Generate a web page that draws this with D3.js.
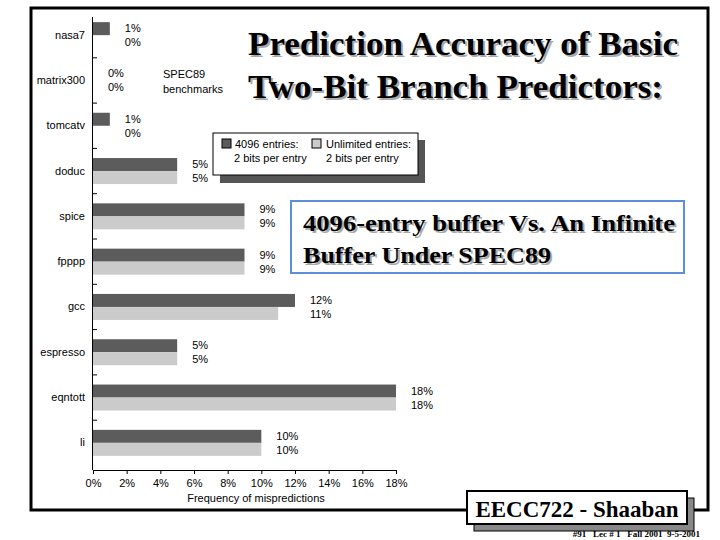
<!DOCTYPE html>
<html><head><meta charset="utf-8">
<script src="https://cdn.jsdelivr.net/npm/d3@7"></script>
<style>body{margin:0;background:#fff}</style>
</head><body><svg></svg>
<script>
var benchmarks=["nasa7","matrix300","tomcatv","doduc","spice","fpppp","gcc","espresso","eqntott","li"]
var entries4096=[1,0,1,5,9,9,12,5,18,10]
var unlimited=[0,0,0,5,9,9,11,5,18,10]
var xTicks=[0,2,4,6,8,10,12,14,16,18]

var svg=d3.select("svg").attr("width",720).attr("height",540)
  .style("font-family","Liberation Sans, Arial, sans-serif")

// outer frame
svg.append("rect").attr("x",31).attr("y",8).attr("width",677).attr("height",502)
   .attr("fill","none").attr("stroke","#000").attr("stroke-width",3)

var x=d3.scaleLinear().domain([0,18]).range([93,396])
var y=d3.scaleBand().domain(benchmarks).range([12.5,465.5])

var rows=svg.append("g").selectAll("g").data(benchmarks).enter().append("g")
rows.append("rect").attr("x",x(0)).attr("y",function(d){return y(d)+y.bandwidth()/2-13})
   .attr("width",function(d,i){return x(entries4096[i])-x(0)}).attr("height",13).attr("fill","#5c5c5c")
rows.append("rect").attr("x",x(0)).attr("y",function(d){return y(d)+y.bandwidth()/2})
   .attr("width",function(d,i){return x(unlimited[i])-x(0)}).attr("height",13).attr("fill","#cbcbcb")
rows.append("text").attr("x",function(d,i){return x(Math.max(entries4096[i],unlimited[i]))+15})
   .attr("y",function(d){return y(d)+y.bandwidth()/2-3}).attr("font-size",11)
   .text(function(d,i){return entries4096[i]+"%"})
rows.append("text").attr("x",function(d,i){return x(Math.max(entries4096[i],unlimited[i]))+15})
   .attr("y",function(d){return y(d)+y.bandwidth()/2+11}).attr("font-size",11)
   .text(function(d,i){return unlimited[i]+"%"})

svg.append("g").attr("transform","translate(93,0)")
   .call(d3.axisLeft(y).tickSize(0).tickPadding(8))
   .call(function(g){g.select(".domain").remove();g.selectAll("text").attr("font-size",11).attr("font-family","Liberation Sans, Arial")})
svg.append("line").attr("x1",92.5).attr("x2",92.5).attr("y1",17).attr("y2",470).attr("stroke","#000")
svg.append("g").selectAll("line").data(benchmarks.slice(1)).enter().append("line")
   .attr("x1",92).attr("x2",97).attr("y1",function(d){return y(d)}).attr("y2",function(d){return y(d)}).attr("stroke","#000")

svg.append("g").attr("transform","translate(0,470)")
   .call(d3.axisBottom(x).tickValues(xTicks).tickSize(4).tickFormat(function(d){return d+"%"}))
   .call(function(g){g.selectAll("text").attr("font-size",11).attr("font-family","Liberation Sans, Arial").attr("dy","0.9em")})
svg.append("text").attr("x",256).attr("y",502).attr("font-size",11).attr("text-anchor","middle").text("Frequency of mispredictions")

svg.append("text").attr("x",163).attr("y",78).attr("font-size",11).text("SPEC89")
svg.append("text").attr("x",163).attr("y",93).attr("font-size",11).text("benchmarks")

// legend
svg.append("rect").attr("x",220).attr("y",140).attr("width",205).attr("height",43).attr("fill","#555")
svg.append("rect").attr("x",213).attr("y",133).attr("width",205).attr("height",42).attr("fill","#fff").attr("stroke","#000")
svg.append("rect").attr("x",222).attr("y",139).attr("width",9).attr("height",9).attr("fill","#5c5c5c").attr("stroke","#000")
svg.append("rect").attr("x",312).attr("y",139).attr("width",9).attr("height",9).attr("fill","#cbcbcb").attr("stroke","#000")
var lg=[["4096 entries:",235,148],["2 bits per entry",234,162],["Unlimited entries:",326,148],["2 bits per entry",326,162]]
svg.append("g").selectAll("text").data(lg).enter().append("text")
   .attr("x",function(d){return d[1]}).attr("y",function(d){return d[2]}).attr("font-size",11).text(function(d){return d[0]})

function serif(txt,xp,yp,size,len){
  svg.append("text").attr("x",xp+2).attr("y",yp+2).attr("font-size",size).attr("fill","#aaa")
     .attr("font-family","Liberation Serif, Times New Roman, serif").attr("font-weight","bold")
     .attr("textLength",len).attr("lengthAdjust","spacingAndGlyphs").text(txt)
  svg.append("text").attr("x",xp).attr("y",yp).attr("font-size",size).attr("fill","#000")
     .attr("font-family","Liberation Serif, Times New Roman, serif").attr("font-weight","bold")
     .attr("textLength",len).attr("lengthAdjust","spacingAndGlyphs").text(txt)
}
serif("Prediction Accuracy of Basic",248,55,33,430)
serif("Two-Bit Branch Predictors:",248,98,33,415)

svg.append("rect").attr("x",291).attr("y",201).attr("width",393).attr("height",72).attr("fill","#fff").attr("stroke","#5b8fd9").attr("stroke-width",2)
serif("4096-entry buffer Vs.  An Infinite",303,231,23,372)
serif("Buffer Under SPEC89",303,263,23,248)

svg.append("rect").attr("x",474).attr("y",498).attr("width",220).attr("height",33).attr("fill","#888").attr("stroke","#000")
svg.append("rect").attr("x",467).attr("y",491).attr("width",220).attr("height",33).attr("fill","#fff").attr("stroke","#000").attr("stroke-width",2)
svg.append("text").attr("x",577).attr("y",517).attr("text-anchor","middle").attr("font-size",23).attr("font-weight","bold")
   .attr("font-family","Liberation Serif, Times New Roman, serif").text("EECC722 - Shaaban")
svg.append("text").attr("x",700).attr("y",537).attr("text-anchor","end").attr("font-size",9).attr("font-weight","bold")
   .attr("font-family","Liberation Serif, Times New Roman, serif").attr("xml:space","preserve").text("#91   Lec # 1   Fall 2001  9-5-2001")
</script></body></html>
